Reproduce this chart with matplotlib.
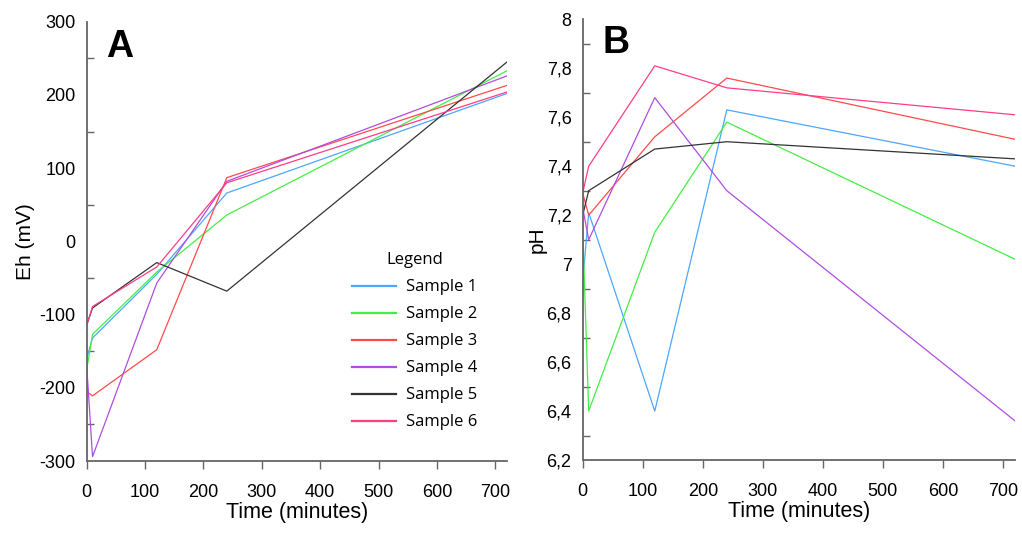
import matplotlib
matplotlib.use("Agg")
import matplotlib.pyplot as plt
from matplotlib.ticker import FixedLocator

plt.rcParams['font.family'] = ['Liberation Sans', 'DejaVu Sans']
plt.rcParams['axes.unicode_minus'] = False

time = [0, 10, 120, 240, 720]
labels = ["Sample 1", "Sample 2", "Sample 3", "Sample 4", "Sample 5", "Sample 6"]
colors = ["#4da6ff", "#44ee44", "#ff4a4a", "#b04de0", "#333333", "#ff3d85"]

eh_s1 = [-160, -132, -45, 66, 202]
eh_s2 = [-175, -127, -42, 36, 233]
eh_s3 = [-205, -211, -148, 87, 213]
eh_s4 = [-170, -294, -57, 82, 226]
eh_s5 = [-114, -91, -29, -68, 245]
eh_s6 = [-115, -89, -35, 80, 204]
eh = [eh_s1, eh_s2, eh_s3, eh_s4, eh_s5, eh_s6]

ph_s1 = [6.93, 7.21, 6.40, 7.63, 7.40]
ph_s2 = [7.14, 6.40, 7.13, 7.58, 7.02]
ph_s3 = [7.29, 7.20, 7.52, 7.76, 7.51]
ph_s4 = [7.23, 7.10, 7.68, 7.30, 6.36]
ph_s5 = [7.20, 7.30, 7.47, 7.50, 7.43]
ph_s6 = [7.29, 7.40, 7.81, 7.72, 7.61]
ph = [ph_s1, ph_s2, ph_s3, ph_s4, ph_s5, ph_s6]

x_ticks = [0, 100, 200, 300, 400, 500, 600, 700]
eh_ticks = [-300, -200, -100, 0, 100, 200, 300]
eh_minor = [-250, -150, -50, 50, 150, 250]
ph_ticks = [6.2, 6.4, 6.6, 6.8, 7.0, 7.2, 7.4, 7.6, 7.8, 8.0]
ph_ticklabels = ["6,2", "6,4", "6,6", "6,8", "7", "7,2", "7,4", "7,6", "7,8", "8"]
ph_minor = [6.3, 6.5, 6.7, 6.9, 7.1, 7.3, 7.5, 7.7, 7.9]

W, H = 1022, 537
fig = plt.figure(figsize=(W / 100, H / 100), dpi=100)
axA = fig.add_axes([86.7 / W, 1 - 461 / H, (507 - 86.7) / W, (461 - 21.7) / H])
axB = fig.add_axes([582.7 / W, 1 - 460 / H, (1015 - 582.7) / W, (460 - 19.3) / H])

for ax in (axA, axB):
    for s in ("top", "right"):
        ax.spines[s].set_visible(False)
    for s in ("left", "bottom"):
        ax.spines[s].set_color("#666666")
        ax.spines[s].set_linewidth(1.3)
    ax.set_xlim(0, 720)
    ax.set_xticks(x_ticks)
    ax.tick_params(axis="x", direction="out", length=6, width=1, color="#666666",
                   labelsize=13, pad=10.5)
    ax.tick_params(axis="y", which="major", length=0, labelsize=13, pad=8)
    ax.tick_params(axis="y", which="minor", direction="in", length=5, width=1,
                   color="#666666")
    ax.set_xlabel("Time (minutes)", fontsize=15.5, labelpad=1)

for i in range(6):
    axA.plot(time, eh[i], color=colors[i], lw=0.9, label=labels[i])
    axB.plot(time, ph[i], color=colors[i], lw=0.9, label=labels[i])

axA.set_ylim(-300, 300)
axA.set_yticks(eh_ticks)
axA.yaxis.set_minor_locator(FixedLocator(eh_minor))
axA.set_ylabel("Eh (mV)", fontsize=15, labelpad=3.5)

axB.set_ylim(6.2, 8.0)
axB.set_yticks(ph_ticks)
axB.set_yticklabels(ph_ticklabels)
axB.yaxis.set_minor_locator(FixedLocator(ph_minor))
axB.set_ylabel("pH", fontsize=15, labelpad=-0.5)

fig.text(120 / W, 1 - 47 / H, "A", fontsize=27, fontweight="bold", ha="center", va="center")
fig.text(616 / W, 1 - 43 / H, "B", fontsize=27, fontweight="bold", ha="center", va="center")

handles, labs = axA.get_legend_handles_labels()
leg = axA.legend(handles, labs, title="Legend", loc="upper left",
                 bbox_to_anchor=(344 / W, 1 - 244 / H), bbox_transform=fig.transFigure,
                 frameon=False, borderpad=0, handlelength=2.6, handletextpad=0.6,
                 labelspacing=0.66, prop={"family": "Open Sans", "size": 12},
                 title_fontproperties={"family": "Open Sans", "size": 12})
for line in leg.get_lines():
    line.set_linewidth(1.6)

fig.savefig("out.png", dpi=100)
